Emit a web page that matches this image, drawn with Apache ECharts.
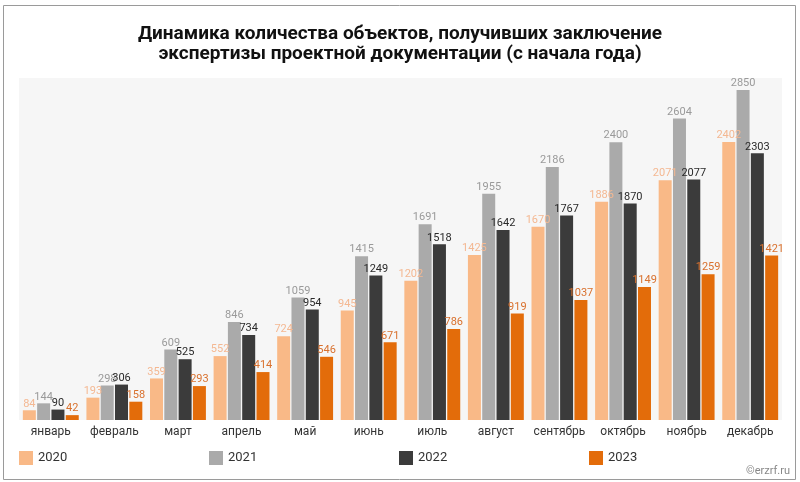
<!DOCTYPE html>
<html><head><meta charset="utf-8">
<script src="https://cdn.jsdelivr.net/npm/echarts@6/dist/echarts.min.js"></script>
<style>html,body{margin:0;padding:0;background:#fff}#c{width:800px;height:482px}</style>
</head><body><div id="c"></div>
<script>
const categories = ['январь','февраль','март','апрель','май','июнь','июль','август','сентябрь','октябрь','ноябрь','декабрь'];
const seriesNames = ['2020','2021','2022','2023'];
const v2020 = [84,193,359,552,724,945,1202,1425,1670,1886,2071,2402];
const v2021 = [144,298,609,846,1059,1415,1691,1955,2186,2400,2604,2850];
const v2022 = [90,306,525,734,954,1249,1518,1642,1767,1870,2077,2303];
const v2023 = [42,158,293,414,546,671,786,919,1037,1149,1259,1421];
const titleText = 'Динамика количества объектов, получивших заключение\nэкспертизы проектной документации (с начала года)';

const barColors = ['#f9b987','#aaaaaa','#3b3b3b','#e36c0a'];
const labelColors = ['#f4b892','#9a9a9a','#2a2a2a','#d9712e'];
const FF = "'Liberation Sans Narrow','Roboto',sans-serif";
const data = [v2020,v2021,v2022,v2023];
const chart = echarts.init(document.getElementById('c'));
const legendX = [19,209,399,589];
chart.setOption({
  animation:false,
  backgroundColor:'#fff',
  title:{text:titleText,left:'center',top:19,textStyle:{fontFamily:FF,fontWeight:'bold',fontSize:19,color:'#111',lineHeight:20}},
  grid:{left:19,right:18,top:78,bottom:62,show:true,backgroundColor:'#f6f6f6',borderWidth:0},
  legend: seriesNames.map((n,i)=>({data:[n],left:legendX[i],top:451,itemWidth:14,itemHeight:14,itemGap:5,icon:'rect',padding:0,textStyle:{fontFamily:FF,fontSize:13,color:'#333'}})),
  xAxis:{type:'category',data:categories,axisLine:{show:false},axisTick:{show:false},axisLabel:{fontFamily:FF,fontSize:12,color:'#333',margin:6,interval:0}},
  yAxis:{type:'value',min:0,max:2954,show:false,splitLine:{show:false}},
  series: seriesNames.map((n,i)=>({name:n,type:'bar',data:data[i],barWidth:13,barGap:'10%',itemStyle:{color:barColors[i]},
    label:{show:true,position:'top',distance:1,fontFamily:FF,fontSize:11,color:labelColors[i]}})),
  graphic:[
    {type:'rect',shape:{x:3.5,y:5.5,width:792,height:474},style:{fill:'none',stroke:'#9a9a9a',lineWidth:1},silent:true},
    {type:'text',right:10,top:466,style:{text:'©erzrf.ru',fontFamily:FF,fontSize:11,fill:'#888'}}
  ]
});
</script></body></html>
